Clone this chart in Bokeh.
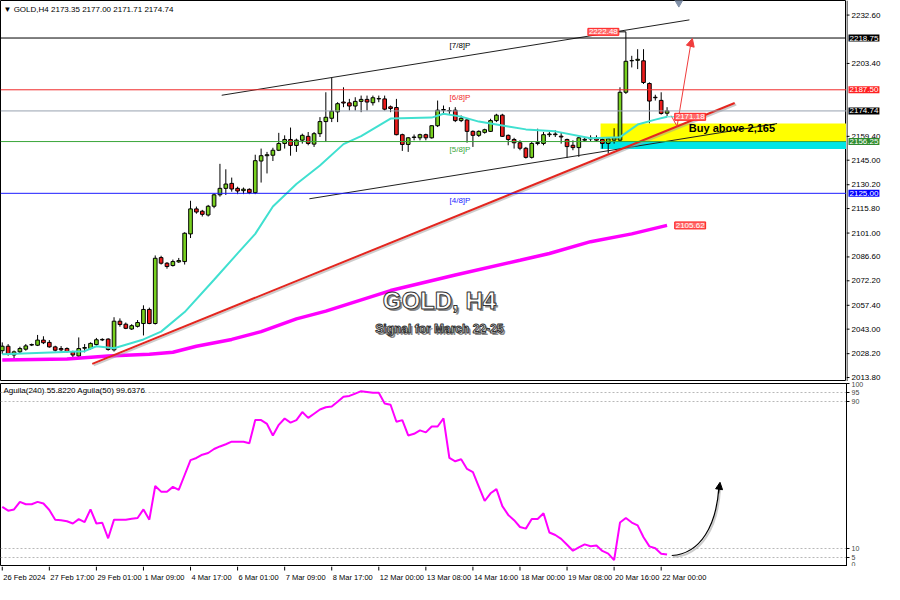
from bokeh.plotting import figure
from bokeh.models import (Range1d, FixedTicker, Span, Label, ColumnDataSource, Arrow,
                          NormalHead, BoxAnnotation)
from bokeh.layouts import column, row
from bokeh.embed import file_html
from bokeh.resources import INLINE
from bokeh.core.properties import value

# ---------------- data ----------------
opens = [2030.0, 2032.7, 2027.4, 2029.3, 2030.9, 2033.4, 2033.3, 2036.4, 2035.0, 2032.3,
         2031.3, 2031.3, 2029.3, 2026.8, 2031.5, 2031.3, 2033.7, 2036.5, 2037.0, 2030.5,
         2047.8, 2046.0, 2043.1, 2044.7, 2046.4, 2054.9, 2046.4, 2086.2, 2082.8, 2081.4,
         2083.6, 2083.8, 2100.5, 2115.6, 2114.2, 2111.9, 2117.2, 2124.1, 2128.0, 2131.0,
         2128.0, 2126.6, 2127.4, 2125.4, 2144.5, 2147.7, 2148.0, 2151.0, 2155.1, 2157.5,
         2153.9, 2157.1, 2159.4, 2154.7, 2161.0, 2168.3, 2170.3, 2174.2, 2180.1, 2179.6,
         2177.7, 2180.5, 2181.7, 2179.7, 2182.0, 2182.0, 2177.2, 2176.8, 2160.4, 2154.5,
         2158.7, 2158.5, 2160.4, 2158.5, 2165.8, 2175.2, 2175.0, 2175.2, 2168.9, 2169.3,
         2162.4, 2160.0, 2161.8, 2162.4, 2168.9, 2172.2, 2160.0, 2157.5, 2155.5, 2152.2,
         2146.7, 2155.1, 2155.1, 2160.4, 2160.4, 2159.5, 2157.5, 2154.0, 2152.6, 2157.1,
         2157.8, 2158.5, 2157.5, 2155.1, 2157.1, 2157.1, 2186.0, 2205.0, 2205.3, 2205.0,
         2191.3, 2183.0, 2181.1, 2173.35]
highs = [2035.0, 2034.0, 2030.1, 2032.4, 2034.0, 2034.3, 2039.5, 2038.7, 2036.4, 2033.0,
         2032.8, 2032.0, 2030.0, 2038.0, 2034.0, 2035.0, 2037.7, 2037.5, 2037.5, 2050.2,
         2049.5, 2047.0, 2046.0, 2048.5, 2057.4, 2056.0, 2087.5, 2087.3, 2083.5, 2085.0,
         2086.0, 2101.5, 2120.5, 2117.0, 2115.0, 2118.0, 2125.0, 2142.8, 2139.5, 2134.5,
         2129.0, 2128.5, 2128.0, 2148.3, 2152.0, 2150.0, 2152.5, 2161.5, 2160.0, 2164.7,
         2158.0, 2161.0, 2162.0, 2162.0, 2171.0, 2186.0, 2194.9, 2180.0, 2189.0, 2182.0,
         2183.0, 2184.0, 2184.0, 2184.0, 2184.0, 2184.0, 2178.0, 2182.0, 2161.0, 2159.0,
         2160.5, 2161.0, 2161.0, 2166.0, 2181.0, 2178.0, 2177.0, 2177.0, 2172.0, 2170.0,
         2163.0, 2163.0, 2164.0, 2170.0, 2173.0, 2173.0, 2160.5, 2158.5, 2157.0, 2153.0,
         2156.0, 2164.0, 2162.0, 2162.0, 2163.0, 2162.0, 2158.0, 2157.0, 2159.0, 2159.0,
         2160.0, 2160.0, 2159.0, 2159.0, 2164.3, 2189.0, 2222.48, 2208.0, 2212.0, 2212.0,
         2192.0, 2184.5, 2186.0, 2177.00]
lows = [2028.0, 2027.0, 2024.8, 2028.5, 2030.0, 2032.8, 2032.8, 2034.0, 2031.8, 2029.5,
        2029.5, 2028.8, 2024.8, 2026.0, 2029.0, 2030.7, 2033.0, 2035.8, 2030.0, 2029.5,
        2044.5, 2043.0, 2042.5, 2044.0, 2039.2, 2046.0, 2045.8, 2082.0, 2079.5, 2080.8,
        2083.0, 2082.0, 2098.0, 2112.7, 2111.0, 2111.0, 2116.0, 2123.0, 2124.0, 2126.0,
        2124.5, 2124.5, 2124.5, 2124.5, 2131.5, 2137.0, 2144.5, 2150.5, 2152.0, 2147.7,
        2150.0, 2155.0, 2154.0, 2153.0, 2159.0, 2156.0, 2168.0, 2168.0, 2177.0, 2175.0,
        2175.0, 2174.0, 2175.0, 2178.0, 2180.0, 2175.0, 2174.0, 2160.0, 2150.6, 2150.0,
        2157.0, 2157.0, 2157.0, 2158.0, 2165.0, 2173.0, 2173.0, 2168.0, 2168.0, 2155.6,
        2153.0, 2159.0, 2161.0, 2162.0, 2168.0, 2159.0, 2154.0, 2152.0, 2151.0, 2146.0,
        2146.0, 2154.0, 2154.0, 2159.0, 2159.0, 2155.0, 2146.3, 2151.0, 2147.0, 2156.0,
        2156.5, 2156.0, 2152.0, 2149.0, 2155.0, 2156.0, 2185.0, 2201.0, 2200.0, 2191.0,
        2167.3, 2181.0, 2172.5, 2171.71]
closes = [2032.7, 2027.8, 2029.3, 2031.3, 2032.9, 2033.7, 2036.4, 2034.8, 2032.3, 2030.3,
          2030.5, 2029.5, 2027.4, 2031.3, 2031.9, 2034.4, 2036.6, 2036.8, 2030.7, 2047.8,
          2045.8, 2043.5, 2045.1, 2047.0, 2054.9, 2046.4, 2085.8, 2082.8, 2080.8, 2083.8,
          2084.4, 2100.9, 2115.6, 2113.7, 2112.3, 2117.2, 2124.1, 2128.0, 2130.6, 2127.6,
          2126.4, 2127.5, 2125.4, 2144.7, 2147.7, 2148.3, 2151.0, 2155.1, 2157.5, 2153.9,
          2157.1, 2160.0, 2155.1, 2161.0, 2168.3, 2170.9, 2174.6, 2179.1, 2179.5, 2177.7,
          2180.5, 2181.7, 2180.1, 2182.7, 2182.2, 2175.8, 2176.2, 2160.4, 2154.5, 2158.5,
          2159.0, 2160.4, 2158.5, 2165.8, 2175.2, 2175.6, 2174.8, 2168.9, 2170.3, 2162.4,
          2160.0, 2162.4, 2163.4, 2168.9, 2172.2, 2159.4, 2157.5, 2155.5, 2152.2, 2146.7,
          2155.1, 2155.6, 2160.4, 2160.8, 2160.8, 2159.0, 2153.2, 2152.6, 2158.5, 2157.6,
          2158.5, 2157.1, 2155.1, 2157.9, 2158.5, 2186.0, 2204.7, 2205.2, 2205.9, 2191.9,
          2180.7, 2182.7, 2173.2, 2174.74]

# moving averages (bar, value)
ma_fast_bar = [0, 14, 16, 19, 24, 27, 31, 36, 40, 43, 46, 50, 54, 58, 61, 66, 73, 75, 78,
               81, 86, 89, 94, 100, 105, 108, 111, 113]
ma_fast_val = [2027.9, 2029.7, 2032.7, 2031.5, 2036.8, 2041.5, 2053.3, 2072.8, 2088.7,
               2100.5, 2117.0, 2130.6, 2141.8, 2154.7, 2159.5, 2170.1, 2170.7, 2173.0,
               2171.3, 2168.3, 2165.4, 2163.6, 2162.4, 2158.3, 2158.9, 2166.5, 2169.5, 2171.18]
ma_slow_bar = [0, 11, 18, 25, 29, 33, 39, 44, 50, 55, 66, 77, 88, 93, 100, 107, 113]
ma_slow_val = [2024.4, 2025.0, 2026.8, 2027.9, 2029.1, 2032.7, 2036.8, 2041.5, 2049.2,
               2053.9, 2066.3, 2075.7, 2084.6, 2088.7, 2095.8, 2100.5, 2105.62]

# oscillator (Aguila) per bar
aguila = [32.6, 30.5, 31.2, 35.3, 34.0, 34.0, 35.3, 34.4, 30.9, 25.6,
          25.3, 24.7, 23.5, 25.9, 24.3, 31.2, 23.5, 23.9, 15.4, 25.6,
          25.6, 25.6, 26.1, 26.5, 31.2, 25.6, 44.0, 40.9, 40.9, 43.5,
          41.9, 50.0, 58.1, 59.3, 61.1, 62.0, 64.2, 65.6, 66.8, 68.2,
          68.2, 68.2, 67.4, 80.0, 80.0, 77.9, 71.6, 77.4, 80.9, 78.6,
          80.0, 84.4, 81.2, 83.5, 85.8, 87.0, 87.4, 90.0, 92.8, 93.2,
          94.5, 95.8, 95.4, 94.9, 94.9, 89.1, 88.4, 79.1, 80.0, 71.6,
          72.5, 74.4, 73.3, 76.5, 76.5, 80.9, 59.3, 57.5, 58.6, 53.3,
          51.6, 43.7, 35.8, 40.0, 42.3, 33.0, 28.2, 25.3, 21.6, 20.7,
          26.0, 26.0, 29.1, 18.6, 17.2, 15.1, 11.9, 8.6, 10.5, 12.1,
          11.1, 11.5, 8.5, 7.0, 3.5, 24.0, 26.5, 24.0, 22.5, 16.0, 11.0, 10.0, 7.0, 6.5]

# Murrey levels
levels = [2218.75, 2187.50, 2156.25, 2125.00]
level_names = ["[7/8]P", "[6/8]P", "[5/8]P", "[4/8]P"]
last_price = 2174.74
# trend lines (bar, price)
channel_top_bar = [37.3, 116.8]
channel_top_val = [2184.2, 2229.7]
channel_bot_bar = [52.2, 131.7]
channel_bot_val = [2121.7, 2167.1]
trend_bar = [15.3, 124.5]
trend_val = [2022.0, 2179.5]
buy_zone = [2167.1, 2156.5]
support_zone = [2156.5, 2151.8]
peak_price = 2222.48

price_ticks = [2013.80, 2028.20, 2043.00, 2057.40, 2072.20, 2086.60, 2101.00, 2115.80,
               2130.20, 2145.00, 2159.40, 2203.40, 2232.60]
osc_ticks = [0, 5, 10, 90, 95, 100]
osc_grid = [5, 10, 90, 95]
time_labels = ["26 Feb 2024", "27 Feb 17:00", "29 Feb 01:00", "1 Mar 09:00", "4 Mar 17:00",
               "6 Mar 01:00", "7 Mar 09:00", "8 Mar 17:00", "12 Mar 00:00", "13 Mar 08:00",
               "14 Mar 16:00", "18 Mar 00:00", "19 Mar 08:00", "20 Mar 16:00", "22 Mar 00:00"]

# ---------------- styling ----------------
FONT = "Liberation Sans"
W = 884
AXW = 38
GREEN = "#78d11f"
RED = "#ec1c1c"
LEVEL_COLORS = ["#000000", "#f02a2a", "#3aa63a", "#1c1cff"]
BOX_COLORS = ["#000000", "#ff2020", "#2e8b2e", "#0000ff"]

n = len(opens)
bars = list(range(n))
xr = Range1d(-0.3, 143.5)
yr = Range1d(2011.4, 2241.4)


def bare(fig):
    fig.outline_line_color = "black"
    fig.background_fill_color = "white"
    fig.border_fill_color = "white"
    fig.xgrid.visible = False
    fig.ygrid.visible = False


def strip(width, height, x_range, y_range):
    f = figure(width=width, height=height, x_range=x_range, y_range=y_range,
               output_backend="svg", toolbar_location=None, x_axis_location=None,
               y_axis_location=None, min_border_left=0, min_border_right=0,
               min_border_top=0, min_border_bottom=0)
    bare(f)
    return f


p = strip(W - AXW, 381, xr, yr)

# zones
p.add_layout(BoxAnnotation(left=101.7, top=buy_zone[0], bottom=buy_zone[1],
                           fill_color="#ffff00", fill_alpha=1, line_color=None, level="underlay"))
p.add_layout(BoxAnnotation(left=101.7, top=support_zone[0], bottom=support_zone[1],
                           fill_color="#00e6e6", fill_alpha=1, line_color=None, level="underlay"))

# levels
for lv, nm, col in zip(levels, level_names, LEVEL_COLORS):
    p.add_layout(Span(location=lv, dimension="width", line_color=col, line_width=1))
    p.add_layout(Label(x=77.8, y=lv, text=nm, text_color=col, text_align="center",
                       text_baseline="top", y_offset=-3, text_font=FONT, text_font_size="8px"))
p.add_layout(Span(location=last_price, dimension="width", line_color="#98a2b0", line_width=1))

# candles
tops = [max(o, c) for o, c in zip(opens, closes)]
bots = [min(o, c) for o, c in zip(opens, closes)]
cols = [GREEN if c >= o else RED for o, c in zip(opens, closes)]
src = ColumnDataSource(dict(x=bars, h=highs, l=lows, t=tops, b=bots, c=cols))
p.segment(x0="x", y0="h", x1="x", y1="l", source=src, line_color="black", line_width=1)
p.vbar(x="x", width=0.62, top="t", bottom="b", fill_color="c", line_color="black",
       line_width=1, source=src)

# trend lines
p.line(channel_top_bar, channel_top_val, line_color="#202020", line_width=1)
p.line(channel_bot_bar, channel_bot_val, line_color="#202020", line_width=1)
p.line(ma_fast_bar, ma_fast_val, line_color="#40e0d0", line_width=2)
p.line(ma_slow_bar, ma_slow_val, line_color="#ff00ff", line_width=3.5)
p.line([b + 0.25 for b in trend_bar], [v - 0.9 for v in trend_val], line_color="#999999",
       line_width=2, line_alpha=0.5)
p.line(trend_bar, trend_val, line_color="#e3261f", line_width=2)

# red projection arrow
p.line([113.7, 114.7, 117.0], [2171.9, 2165.4, 2214.5], line_color="#f03c3c", line_width=1)
p.add_layout(Arrow(end=NormalHead(size=8, fill_color="#f03c3c", line_color="#f03c3c"),
                   x_start=117.0, y_start=2214.5, x_end=117.3, y_end=2218.5,
                   line_color="#f03c3c", line_width=1))

# chart-shift marker
p.scatter([115.0], [2240.2], marker="inverted_triangle", size=8, color="#8090a8")

# price tags inside chart
p.segment(x0=[104.8], y0=[peak_price], x1=[106], y1=[peak_price], line_color="black")
p.segment(x0=[113], y0=[ma_fast_val[-1]], x1=[114.3], y1=[ma_fast_val[-1]], line_color="#40e0d0")
for xx, yy, al in [(104.8, peak_price, "right"), (114.3, ma_fast_val[-1], "left"),
                   (114.3, ma_slow_val[-1], "left")]:
    p.add_layout(Label(x=xx, y=yy, text=f"{yy:.2f}", text_align=al, text_baseline="middle",
                       text_color="white", text_font=FONT, text_font_size="8px",
                       background_fill_color="#ff6b6b", border_line_color="#ff2020",
                       padding=1))

# texts
p.add_layout(Label(x=-0.3, y=2241.4, x_offset=3, y_offset=-4,
                   text="\u25bc GOLD,H4  2173.35 2177.00 2171.71 2174.74",
                   text_baseline="top", text_font=FONT, text_font_size="8px", text_color="black"))
p.add_layout(Label(x=116.7, y=2164.2, text="Buy above 2,165", text_baseline="middle",
                   text_font=FONT, text_font_size="11px", text_font_style="bold",
                   text_color="black"))
for txt, yy, fs in [("GOLD, H4", 2060.5, "24px"), ("Signal for March 22-25", 2043.0, "12px")]:
    p.add_layout(Label(x=74.3, y=yy, x_offset=2, y_offset=-2, text=txt, text_align="center",
                       text_baseline="middle", text_font=FONT, text_font_size=fs,
                       text_font_style="bold", text_color="#8a8a8a"))
    p.add_layout(Label(x=74.3, y=yy, text=txt, text_align="center", text_baseline="middle",
                       text_font=FONT, text_font_size=fs, text_font_style="bold",
                       text_color="white", text_outline_color="#333333"))

# ---------------- price scale (right strip) ----------------
pr = strip(AXW, 381, Range1d(0, AXW), yr)
pr.outline_line_color = None
pr.add_layout(Span(location=0.5, dimension="height", line_color="black", line_width=1))
pr.segment(x0=[0] * len(price_ticks), y0=price_ticks, x1=[3] * len(price_ticks),
           y1=price_ticks, line_color="black")
pr.text(x=[5] * len(price_ticks), y=price_ticks, text=[f"{t:.2f}" for t in price_ticks],
        text_baseline="middle", text_font=value(FONT), text_font_size="8px", text_color="black")
for lv, bc in zip(levels + [last_price], BOX_COLORS + ["#000000"]):
    pr.add_layout(Label(x=2, y=lv, text=f"{lv:.2f}", text_align="left",
                        text_baseline="middle", text_color="white", text_font=FONT,
                        text_font_size="8px", background_fill_color=bc, padding=1))

# ---------------- oscillator panel ----------------
p2 = figure(width=W, height=185, x_range=xr, y_range=Range1d(0, 100),
            output_backend="svg", toolbar_location=None, y_axis_location="right",
            x_axis_location=None,
            min_border_left=0, min_border_right=AXW, min_border_top=2, min_border_bottom=0)
bare(p2)
p2.ygrid.visible = True
p2.ygrid.ticker = FixedTicker(ticks=osc_grid)
p2.ygrid.grid_line_color = "#b8b8b8"
p2.ygrid.grid_line_dash = "2 2"
y2 = p2.yaxis[0]
y2.ticker = FixedTicker(ticks=osc_ticks)
y2.major_label_text_font = FONT
y2.major_label_text_font_size = "7px"
y2.major_tick_in = 0
y2.major_tick_out = 3
y2.minor_tick_out = 0
y2.major_label_standoff = 2
y2.axis_line_color = "black"

p2.line(bars, aguila, line_color="#ff00ff", line_width=2)
p2.bezier(x0=[114.0], y0=[5.2], x1=[122.0], y1=[42.0], cx0=[119.0], cy0=[6.0],
          cx1=[121.6], cy1=[22.0], line_color="#aaaaaa", line_width=2, line_alpha=0.6)
p2.bezier(x0=[113.8], y0=[6.0], x1=[121.8], y1=[43.0], cx0=[118.8], cy0=[7.0],
          cx1=[121.4], cy1=[23.0], line_color="black", line_width=1.2)
p2.add_layout(Arrow(end=NormalHead(size=7, fill_color="black", line_color="black"),
                    x_start=121.75, y_start=40.0, x_end=122.0, y_end=46.0,
                    line_color="black", line_width=1.2))
p2.add_layout(Label(x=-0.3, y=100, x_offset=3, y_offset=-2,
                    text="Aguila(240) 55.8220  Aguila(50) 99.6376", text_baseline="top",
                    text_font=FONT, text_font_size="8px", text_color="black"))

# ---------------- time scale (bottom strip) ----------------
tick_pos = list(range(0, 8 * len(time_labels), 8))
pt = strip(W - AXW, 18, xr, Range1d(0, 18))
pt.outline_line_color = None
pt.segment(x0=tick_pos, y0=[18] * len(tick_pos), x1=tick_pos, y1=[14] * len(tick_pos),
           line_color="black")
pt.text(x=tick_pos, y=[12] * len(tick_pos), text=time_labels, x_offset=1,
        text_baseline="top", text_align="left", text_font=value(FONT),
        text_font_size="7.5px", text_color="black")
pfill = strip(AXW, 18, Range1d(0, 1), Range1d(0, 1))
pfill.outline_line_color = None

layout = column(row(p, pr, spacing=0), p2, row(pt, pfill, spacing=0), spacing=0)
open("out.html", "w").write(file_html(layout, INLINE))
